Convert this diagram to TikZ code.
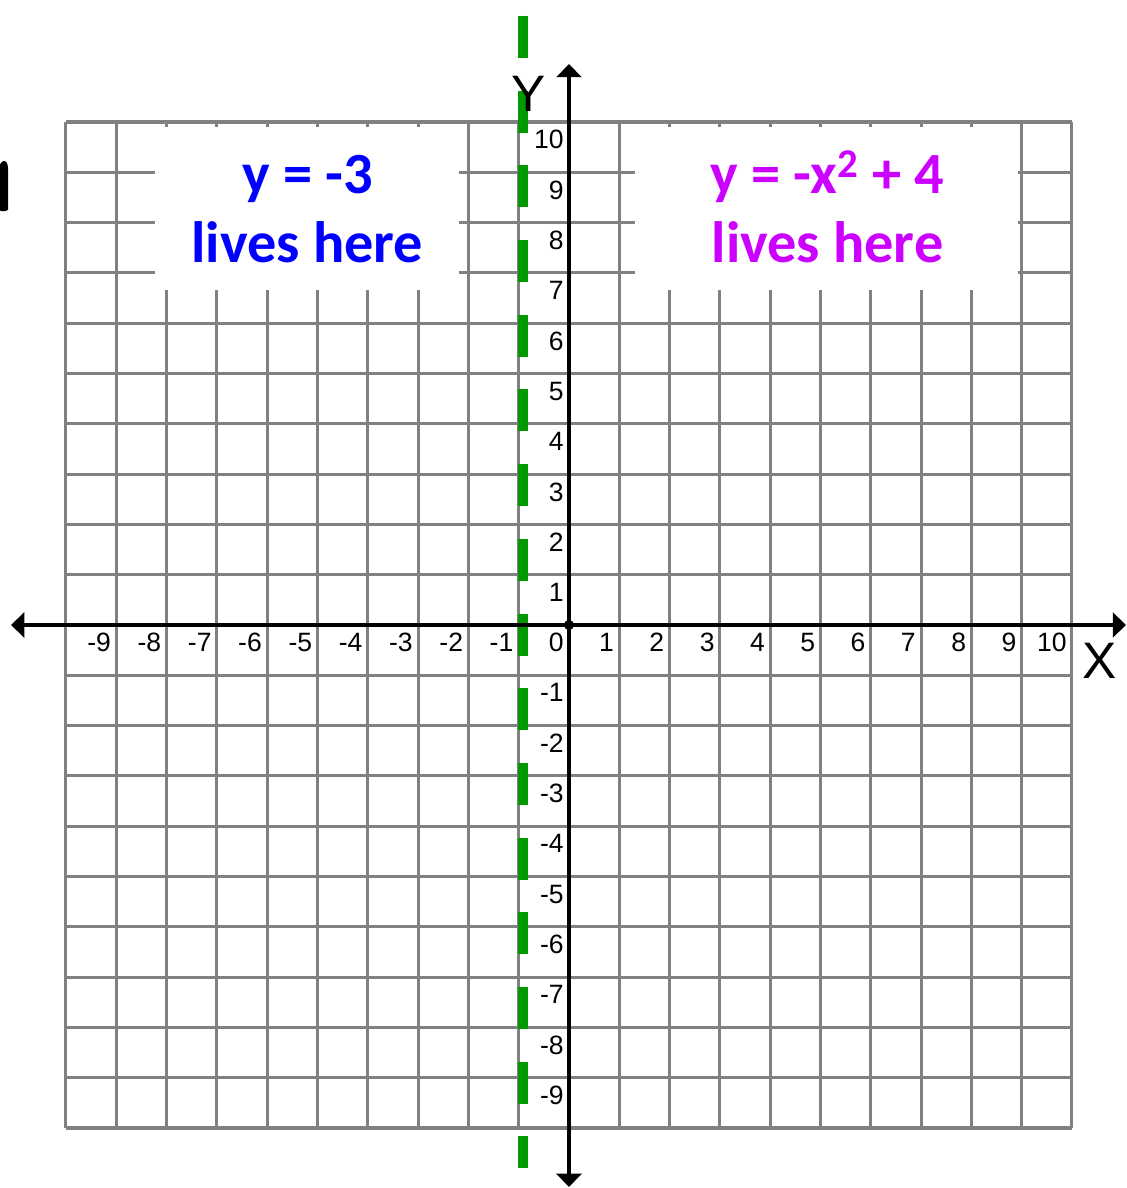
\documentclass[tikz,border=0pt]{standalone}
\usepackage{fontspec}
\setmainfont{Liberation Sans}
\newfontfamily\notefont{Carlito}
\usetikzlibrary{arrows.meta}
\definecolor{gridgray}{RGB}{128,128,128}
\definecolor{noteblue}{RGB}{0,0,255}
\definecolor{notemagenta}{RGB}{204,0,255}
\definecolor{dashgreen}{RGB}{0,153,0}

\begin{document}
\begin{tikzpicture}[
    gridline/.style={draw=gridgray, line width=1.7pt},
    axisline/.style={line width=2.4pt, {Triangle[width=14pt,length=7.5pt]}-{Triangle[width=14pt,length=7.5pt]}},
    notebox/.style={fill=white},
    notetext/.style={font=\notefont\bfseries\fontsize{33}{40}\selectfont, inner sep=0pt, anchor=base},
    ticklabel/.style={font=\fontsize{15}{15}\selectfont, inner sep=0pt, anchor=north east},
    axislabel/.style={font=\fontsize{29}{29}\selectfont, inner sep=0pt},
    greenline/.style={draw=dashgreen, line width=6pt, dash pattern=on 0.835cm off 0.65cm}
  ]
  \useasboundingbox (-11.312,-11.193) rectangle (11.074,12.425);
  % Grid
  \draw[gridline] (-10,-10) grid (10,10);
  % Note boxes
  \fill[notebox] (-8.231,6.66) rectangle (-2.187,9.891);
  \fill[notebox] (1.312,6.66) rectangle (8.926,9.891);
  \node[notetext, text=noteblue] (lefteq) at (-5.2,8.588) {y = -3};
  \node[notetext, text=noteblue] (leftlive) at (-5.2,7.197) {lives here};
  \node[notetext, text=notemagenta] (righteq) at (5.14,8.588) {y = -x\textsuperscript{2} + 4};
  \node[notetext, text=notemagenta] (rightlive) at (5.14,7.197) {lives here};
  % Left edge fragment
  \fill (-11.312,9.16) .. controls (-11.22,9.29) and (-11.15,9.22) .. (-11.152,9.05)
    -- (-11.152,8.26) .. controls (-11.16,8.22) and (-11.3,8.22) .. (-11.312,8.24) -- cycle;
  % Dashed line
  \coordinate (greentop) at (-0.915,12.107);
  \coordinate (greenbot) at (-0.915,-10.795);
  \draw[greenline] (greentop) -- (greenbot);
  % Axes
  \coordinate (xleft) at (-11.093,0);
  \coordinate (xright) at (11.074,0);
  \coordinate (ybottom) at (0,-11.173);
  \coordinate (ytop) at (0,11.153);
  \draw[axisline] (xleft) -- (xright);
  \draw[axisline] (ybottom) -- (ytop);
  \node[circle, fill, inner sep=0pt, minimum size=0.2cm] (origin) at (0,0) {};
  % Tick labels
  \foreach \k in {-9,...,10}
    \node[ticklabel] (xtick\k) at (\k-0.1,-0.16) {\k};
  \foreach \k in {-9,...,-1,1,2,...,10}
    \node[ticklabel] (ytick\k) at (-0.1,\k-0.16) {\k};
  \node[axislabel] (xlabel) at (10.547,-0.716) {X};
  \node[axislabel] (ylabel) at (-0.795,10.557) {Y};
\end{tikzpicture}
\end{document}
